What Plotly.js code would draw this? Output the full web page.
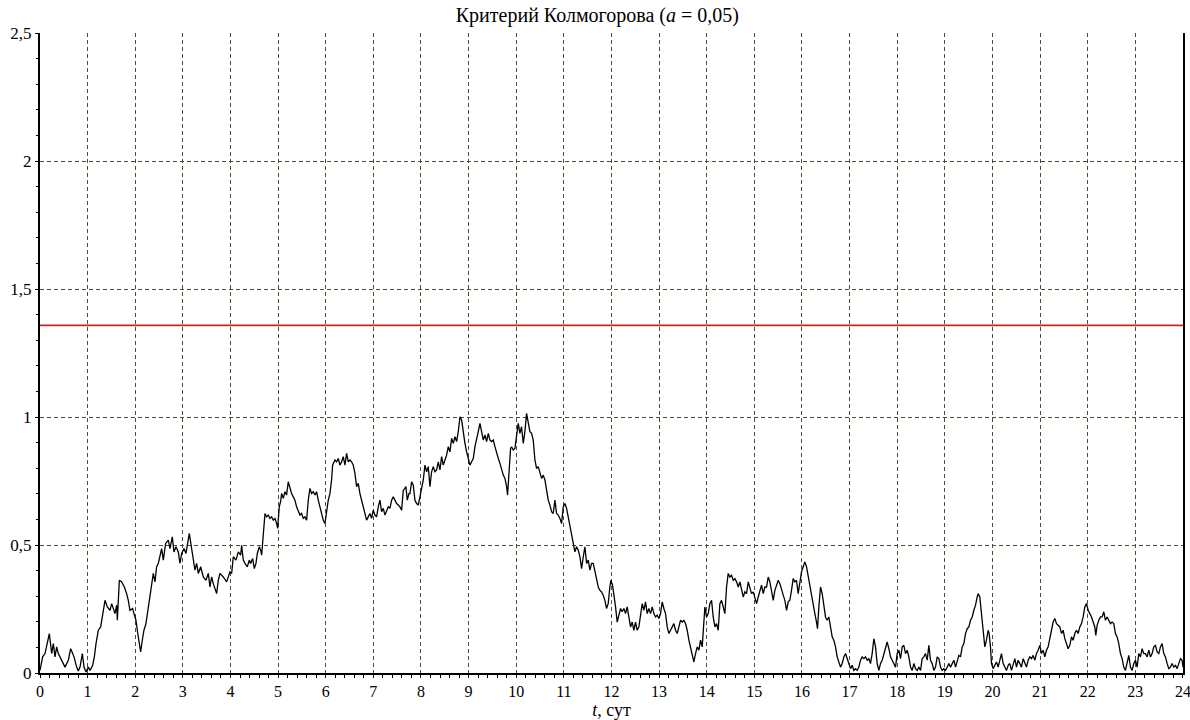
<!DOCTYPE html>
<html>
<head>
<meta charset="utf-8">
<script src="https://cdn.plot.ly/plotly-3.0.1.min.js"></script>
<style>
  html, body { margin: 0; padding: 0; background: #ffffff; }
  #chart { width: 1190px; height: 720px; }
</style>
</head>
<body>
<div id="chart"></div>
<script>
// Time, days
const timeDays = [
  0.000, 0.056, 0.105, 0.196, 0.245, 0.280, 0.315, 0.350, 0.385, 0.420, 0.490, 0.525, 0.595, 0.644, 0.686, 0.714,
  0.770, 0.805, 0.840, 0.889, 0.924, 0.966, 1.015, 1.050, 1.106, 1.141, 1.176, 1.225, 1.274, 1.295, 1.330, 1.365,
  1.414, 1.470, 1.505, 1.540, 1.575, 1.610, 1.624, 1.645, 1.666, 1.715, 1.771, 1.819, 1.854, 1.889, 1.945, 1.973,
  2.015, 2.043, 2.085, 2.113, 2.148, 2.183, 2.225, 2.253, 2.295, 2.344, 2.379, 2.414, 2.449, 2.484, 2.519, 2.554,
  2.589, 2.638, 2.694, 2.729, 2.778, 2.813, 2.855, 2.904, 2.939, 2.974, 3.023, 3.065, 3.135, 3.184, 3.219, 3.254,
  3.289, 3.324, 3.373, 3.429, 3.485, 3.534, 3.569, 3.604, 3.639, 3.709, 3.744,
  3.779, 3.849, 3.919, 3.989, 4.024, 4.059, 4.115, 4.164, 4.213, 4.234, 4.269, 4.304, 4.353, 4.395, 4.423, 4.465,
  4.500, 4.535, 4.563, 4.605, 4.633, 4.654, 4.675, 4.703, 4.724, 4.759, 4.794, 4.829, 4.864, 4.899, 4.934, 4.969,
  4.990, 5.024, 5.052, 5.073, 5.108, 5.143, 5.178, 5.213, 5.248, 5.283, 5.318, 5.353, 5.388, 5.423, 5.458, 5.493,
  5.528, 5.563, 5.598, 5.633, 5.668, 5.703, 5.738, 5.773, 5.808, 5.843, 5.878, 5.913, 5.948, 5.983, 6.018, 6.053,
  6.088, 6.123, 6.144, 6.193, 6.228, 6.263, 6.298, 6.333, 6.368, 6.403, 6.438, 6.473, 6.508, 6.543, 6.578, 6.613,
  6.648, 6.683, 6.718, 6.753, 6.788, 6.823, 6.858, 6.893, 6.928, 6.963, 6.998, 7.033, 7.068, 7.103, 7.138, 7.173,
  7.208, 7.243, 7.278, 7.313, 7.348, 7.383, 7.418, 7.453, 7.488, 7.523, 7.558, 7.593, 7.628, 7.663, 7.684, 7.712,
  7.747,
  7.768, 7.803, 7.838, 7.873, 7.908, 7.943, 7.978, 8.013, 8.048, 8.083, 8.118, 8.153, 8.188, 8.223, 8.258, 8.293,
  8.328, 8.363, 8.398, 8.433, 8.468, 8.503, 8.538, 8.573, 8.608, 8.643, 8.678, 8.713, 8.748, 8.783, 8.818, 8.853,
  8.888, 8.923, 8.958, 8.993, 9.028, 9.063, 9.098, 9.133, 9.168, 9.203, 9.238, 9.273, 9.308, 9.343, 9.378, 9.413,
  9.448, 9.483, 9.518, 9.553, 9.588, 9.623, 9.658, 9.693, 9.728, 9.763, 9.798, 9.818, 9.853, 9.881, 9.902, 9.937,
  9.972, 10.007, 10.042, 10.077, 10.112, 10.147, 10.182, 10.217, 10.252, 10.287, 10.322, 10.357, 10.392, 10.427, 10.462, 10.497,
  10.532, 10.567, 10.602, 10.637, 10.672, 10.707, 10.742, 10.777, 10.812, 10.847, 10.882, 10.917, 10.952, 10.987, 11.022, 11.057,
  11.092, 11.127, 11.162, 11.197, 11.232, 11.267, 11.302, 11.337, 11.372, 11.407, 11.442, 11.477, 11.512, 11.547, 11.582, 11.617,
  11.652, 11.687, 11.722,
  11.756, 11.791, 11.826, 11.861, 11.896, 11.931, 11.966, 11.987, 12.022, 12.050, 12.085, 12.120, 12.155, 12.190, 12.225, 12.260,
  12.295, 12.330, 12.365, 12.400, 12.435, 12.470, 12.505, 12.540, 12.575, 12.610, 12.645, 12.680, 12.715, 12.750, 12.785, 12.820,
  12.855, 12.890, 12.925, 12.960, 12.995, 13.030, 13.065, 13.100, 13.135, 13.170, 13.205, 13.240, 13.275, 13.310, 13.345, 13.380,
  13.415, 13.450, 13.485, 13.520, 13.555, 13.590, 13.625, 13.660, 13.695, 13.730, 13.765, 13.800, 13.835, 13.870, 13.905, 13.940,
  13.961, 13.996, 14.031, 14.066, 14.101, 14.136, 14.171, 14.206, 14.241, 14.276, 14.311, 14.346, 14.381, 14.416, 14.451, 14.486,
  14.521, 14.556, 14.591, 14.626, 14.661, 14.696, 14.731, 14.766, 14.801, 14.836, 14.871, 14.906, 14.941, 14.976, 15.011, 15.046,
  15.081, 15.116, 15.151, 15.186, 15.221, 15.256, 15.291, 15.326, 15.361, 15.396, 15.431, 15.466, 15.501, 15.536, 15.571, 15.606,
  15.641, 15.676, 15.711,
  15.745, 15.780, 15.815, 15.850, 15.885, 15.920, 15.955, 15.990, 16.025, 16.060, 16.095, 16.130, 16.165, 16.200, 16.235, 16.270,
  16.305, 16.326, 16.354, 16.389, 16.424, 16.459, 16.494, 16.529, 16.564, 16.599, 16.634, 16.669, 16.704, 16.739, 16.774, 16.809,
  16.844, 16.879, 16.914, 16.949, 16.984, 17.019, 17.054, 17.089, 17.124, 17.159, 17.194, 17.229, 17.264, 17.299, 17.334, 17.369,
  17.404, 17.439, 17.474, 17.509, 17.544, 17.579, 17.614, 17.649, 17.684, 17.719, 17.754, 17.789, 17.824, 17.859, 17.894, 17.929,
  17.964, 17.999, 18.034, 18.069, 18.104, 18.139, 18.174, 18.209, 18.244, 18.279, 18.314, 18.349, 18.384, 18.419, 18.454, 18.489,
  18.524, 18.559, 18.594, 18.629, 18.664, 18.699, 18.734, 18.769, 18.804, 18.839, 18.874, 18.909, 18.944, 18.979, 19.014, 19.049,
  19.084, 19.119, 19.154, 19.189, 19.224, 19.259, 19.294, 19.329, 19.364, 19.399, 19.434, 19.469, 19.504, 19.539, 19.574, 19.609,
  19.644, 19.679, 19.700,
  19.734, 19.769, 19.804, 19.839, 19.874, 19.909, 19.930, 19.958, 19.979, 20.014, 20.049, 20.084, 20.119, 20.154, 20.189, 20.224,
  20.259, 20.294, 20.329, 20.364, 20.399, 20.434, 20.469, 20.504, 20.539, 20.574, 20.609, 20.644, 20.679, 20.714, 20.749, 20.784,
  20.819, 20.854, 20.889, 20.924, 20.959, 20.994, 21.029, 21.064, 21.099, 21.134, 21.169, 21.204, 21.239, 21.274, 21.309, 21.344,
  21.379, 21.414, 21.449, 21.484, 21.519, 21.554, 21.589, 21.624, 21.659, 21.694, 21.729, 21.764, 21.799, 21.834, 21.869, 21.904,
  21.939, 21.974, 22.009, 22.044, 22.079, 22.114, 22.149, 22.170, 22.197, 22.232, 22.267, 22.302, 22.337, 22.372, 22.407, 22.442,
  22.477, 22.512, 22.547, 22.582, 22.617, 22.652, 22.687, 22.722, 22.757, 22.792, 22.827, 22.862, 22.897, 22.932, 22.967, 23.002,
  23.037, 23.072, 23.107, 23.142, 23.177, 23.212, 23.247, 23.282, 23.317, 23.352, 23.387, 23.422, 23.457, 23.492, 23.527, 23.562,
  23.597, 23.632, 23.667, 23.702, 23.737, 23.772, 23.807, 23.842, 23.877, 23.912, 23.947, 23.982, 24.000
];

// Kolmogorov statistic (lambda) for each time point
const lambdaStat = [
  0.010, 0.063, 0.076, 0.154, 0.076, 0.115, 0.063, 0.102, 0.076, 0.063, 0.037, 0.023, 0.050, 0.095, 0.076, 0.063,
  0.023, 0.008, 0.023, 0.076, 0.023, 0.004, 0.023, 0.010, 0.030, 0.063, 0.115, 0.167, 0.180, 0.206, 0.245, 0.284,
  0.258, 0.245, 0.271, 0.252, 0.232, 0.265, 0.206, 0.284, 0.362, 0.356, 0.336, 0.310, 0.284, 0.245, 0.252, 0.232,
  0.206, 0.167, 0.115, 0.082, 0.128, 0.167, 0.193, 0.232, 0.284, 0.336, 0.389, 0.356, 0.415, 0.428, 0.454, 0.486,
  0.441, 0.506, 0.519, 0.486, 0.532, 0.473, 0.493, 0.473, 0.428, 0.467, 0.486, 0.467, 0.545, 0.493, 0.441, 0.402,
  0.428, 0.389, 0.415, 0.375, 0.362, 0.389, 0.336, 0.375, 0.349, 0.310, 0.362,
  0.389, 0.375, 0.356, 0.395, 0.389, 0.454, 0.441, 0.473, 0.460, 0.499, 0.441, 0.428, 0.415, 0.441, 0.428, 0.447,
  0.408, 0.428, 0.467, 0.493, 0.480, 0.460, 0.506, 0.545, 0.623, 0.610, 0.617, 0.604, 0.610, 0.597, 0.604, 0.584,
  0.565, 0.649, 0.669, 0.701, 0.682, 0.708, 0.695, 0.747, 0.721, 0.701, 0.688, 0.675, 0.649, 0.636, 0.617, 0.623,
  0.604, 0.610, 0.597, 0.675, 0.721, 0.701, 0.708, 0.695, 0.708, 0.675, 0.649, 0.617, 0.597, 0.584, 0.636, 0.675,
  0.701, 0.754, 0.812, 0.832, 0.825, 0.838, 0.812, 0.825, 0.845, 0.812, 0.858, 0.825, 0.832, 0.825, 0.812, 0.780,
  0.728, 0.741, 0.701, 0.675, 0.649, 0.617, 0.597, 0.610, 0.623, 0.604, 0.636, 0.617, 0.610, 0.649, 0.675, 0.630,
  0.643, 0.617, 0.630, 0.649, 0.643, 0.675, 0.688, 0.675, 0.662, 0.656, 0.649, 0.636, 0.714, 0.721, 0.728, 0.675,
  0.701,
  0.701, 0.747, 0.734, 0.675, 0.662, 0.656, 0.688, 0.728, 0.754, 0.812, 0.786, 0.806, 0.728, 0.786, 0.806, 0.786,
  0.793, 0.825, 0.793, 0.845, 0.812, 0.832, 0.851, 0.884, 0.864, 0.917, 0.897, 0.923, 0.904, 0.943, 1.001, 0.988,
  0.936, 0.897, 0.864, 0.832, 0.812, 0.825, 0.838, 0.884, 0.910, 0.943, 0.975, 0.943, 0.910, 0.930, 0.904, 0.936,
  0.910, 0.904, 0.910, 0.884, 0.858, 0.838, 0.819, 0.793, 0.773, 0.760, 0.728, 0.695, 0.793, 0.877, 0.884, 0.871,
  0.877, 0.923, 0.975, 0.936, 0.962, 0.897, 0.943, 1.014, 0.969, 0.943, 0.936, 0.910, 0.832, 0.799, 0.806, 0.786,
  0.760, 0.773, 0.754, 0.714, 0.675, 0.656, 0.630, 0.623, 0.675, 0.623, 0.617, 0.604, 0.584, 0.649, 0.662, 0.643,
  0.610, 0.571, 0.545, 0.506, 0.473, 0.493, 0.480, 0.454, 0.408, 0.454, 0.493, 0.428, 0.441, 0.402, 0.428, 0.428,
  0.395, 0.362, 0.336,
  0.323, 0.317, 0.304, 0.284, 0.252, 0.271, 0.336, 0.362, 0.343, 0.310, 0.258, 0.199, 0.232, 0.252, 0.239, 0.252,
  0.232, 0.258, 0.219, 0.180, 0.199, 0.167, 0.199, 0.167, 0.180, 0.232, 0.271, 0.245, 0.278, 0.232, 0.252, 0.232,
  0.258, 0.232, 0.219, 0.226, 0.213, 0.232, 0.278, 0.252, 0.232, 0.180, 0.154, 0.167, 0.180, 0.193, 0.167, 0.154,
  0.180, 0.206, 0.199, 0.206, 0.193, 0.167, 0.128, 0.095, 0.076, 0.043, 0.076, 0.102, 0.089, 0.128, 0.102, 0.180,
  0.258, 0.219, 0.232, 0.271, 0.284, 0.219, 0.180, 0.193, 0.167, 0.271, 0.284, 0.258, 0.232, 0.336, 0.389, 0.375,
  0.382, 0.362, 0.369, 0.356, 0.336, 0.356, 0.330, 0.297, 0.317, 0.310, 0.356, 0.336, 0.310, 0.317, 0.297, 0.271,
  0.297, 0.317, 0.343, 0.310, 0.336, 0.336, 0.375, 0.356, 0.310, 0.284, 0.323, 0.343, 0.362, 0.349, 0.323, 0.304,
  0.284, 0.245, 0.278,
  0.284, 0.323, 0.369, 0.356, 0.362, 0.310, 0.356, 0.395, 0.415, 0.434, 0.415, 0.375, 0.343, 0.304, 0.271, 0.232,
  0.199, 0.173, 0.258, 0.336, 0.310, 0.258, 0.219, 0.206, 0.219, 0.180, 0.141, 0.128, 0.102, 0.063, 0.037, 0.023,
  0.037, 0.063, 0.076, 0.056, 0.037, 0.017, 0.030, 0.010, 0.017, 0.010, 0.023, 0.050, 0.063, 0.056, 0.063, 0.050,
  0.056, 0.037, 0.076, 0.134, 0.102, 0.037, 0.010, 0.037, 0.050, 0.076, 0.102, 0.121, 0.095, 0.063, 0.050, 0.037,
  0.023, 0.076, 0.089, 0.056, 0.102, 0.108, 0.076, 0.089, 0.063, 0.023, 0.010, 0.037, 0.017, 0.010, 0.023, 0.010,
  0.056, 0.063, 0.076, 0.050, 0.108, 0.050, 0.037, 0.010, 0.023, 0.063, 0.056, 0.023, 0.010, 0.017, 0.010, 0.023,
  0.037, 0.023, 0.037, 0.050, 0.023, 0.050, 0.069, 0.063, 0.102, 0.115, 0.154, 0.173, 0.180, 0.206, 0.219, 0.245,
  0.265, 0.297, 0.310,
  0.297, 0.219, 0.167, 0.102, 0.128, 0.167, 0.154, 0.102, 0.037, 0.017, 0.030, 0.043, 0.023, 0.050, 0.076, 0.037,
  0.023, 0.010, 0.030, 0.037, 0.010, 0.037, 0.056, 0.023, 0.050, 0.037, 0.023, 0.056, 0.037, 0.023, 0.050, 0.063,
  0.056, 0.069, 0.050, 0.076, 0.089, 0.108, 0.076, 0.089, 0.063, 0.089, 0.102, 0.141, 0.167, 0.199, 0.213, 0.193,
  0.186, 0.180, 0.154, 0.167, 0.134, 0.115, 0.095, 0.108, 0.141, 0.128, 0.154, 0.167, 0.154, 0.180, 0.193, 0.219,
  0.258, 0.271, 0.245, 0.232, 0.219, 0.199, 0.180, 0.147, 0.186, 0.206, 0.219, 0.219, 0.239, 0.206, 0.219, 0.206,
  0.193, 0.199, 0.193, 0.154, 0.141, 0.115, 0.076, 0.056, 0.023, 0.010, 0.037, 0.069, 0.023, 0.010, 0.037, 0.050,
  0.023, 0.076, 0.063, 0.095, 0.076, 0.076, 0.063, 0.089, 0.063, 0.076, 0.102, 0.108, 0.082, 0.076, 0.102, 0.115,
  0.076, 0.063, 0.037, 0.017, 0.023, 0.037, 0.023, 0.030, 0.017, 0.037, 0.056, 0.050, 0.023
];

// Critical value of the Kolmogorov criterion at significance 0.05
const criticalValue = 1.358;
const criticalSpan = [0, 24];

const xTickVals = Array.from({length: 25}, (_, i) => i);
const yTickVals = [0, 0.5, 1, 1.5, 2, 2.5];

const serif = 'Liberation Serif';
const gridColor = 'rgb(78,78,48)';

const traces = [
  {
    x: timeDays,
    y: lambdaStat,
    type: 'scatter',
    mode: 'lines',
    line: {color: '#000000', width: 1.3},
    hoverinfo: 'x+y'
  },
  {
    x: criticalSpan,
    y: criticalSpan.map(() => criticalValue),
    type: 'scatter',
    mode: 'lines',
    line: {color: '#c0272d', width: 1.6},
    hoverinfo: 'y'
  }
];

const layout = {
  width: 1190,
  height: 720,
  margin: {l: 40, r: 7, t: 33, b: 47},
  paper_bgcolor: '#ffffff',
  plot_bgcolor: '#ffffff',
  showlegend: false,
  separators: ', ',
  font: {family: serif, size: 16, color: '#000000'},
  title: {
    text: 'Критерий Колмогорова (<i>a</i> = 0,05)',
    font: {family: serif, size: 20, color: '#000000'},
    xref: 'container', x: 0.502, xanchor: 'center',
    yref: 'container', y: 0.979, yanchor: 'middle'
  },
  xaxis: {
    range: [0, 24.0005],
    tickvals: xTickVals,
    ticktext: xTickVals.map(String),
    ticklabeloverflow: 'allow',
    showgrid: true,
    gridcolor: gridColor,
    griddash: '4px,3px',
    gridwidth: 1,
    zeroline: false,
    showline: true,
    linecolor: '#000000',
    linewidth: 2,
    ticks: 'outside',
    ticklen: 3,
    tickcolor: '#000000',
    minor: {dtick: 0.2, tick0: 0, ticks: 'outside', ticklen: 3, tickcolor: '#000000', showgrid: false},
    tickfont: {family: serif, size: 16, color: '#000000'},
    title: {text: '<i>t</i>, сут', font: {family: serif, size: 18, color: '#000000'}, standoff: 0},
    automargin: false,
    fixedrange: true
  },
  yaxis: {
    range: [0, 2.5],
    tickvals: yTickVals,
    showgrid: true,
    gridcolor: gridColor,
    griddash: '4px,3px',
    gridwidth: 1,
    zeroline: false,
    showline: true,
    mirror: true,
    linecolor: '#000000',
    linewidth: 2,
    ticks: 'outside',
    ticklen: 3,
    tickcolor: '#000000',
    minor: {dtick: 0.1, tick0: 0, ticks: 'outside', ticklen: 2, tickcolor: '#000000', showgrid: false},
    tickfont: {family: serif, size: 17, color: '#000000'},
    automargin: false,
    fixedrange: true
  }
};

Plotly.newPlot('chart', traces, layout, {displayModeBar: false, staticPlot: true});
</script>
</body>
</html>
